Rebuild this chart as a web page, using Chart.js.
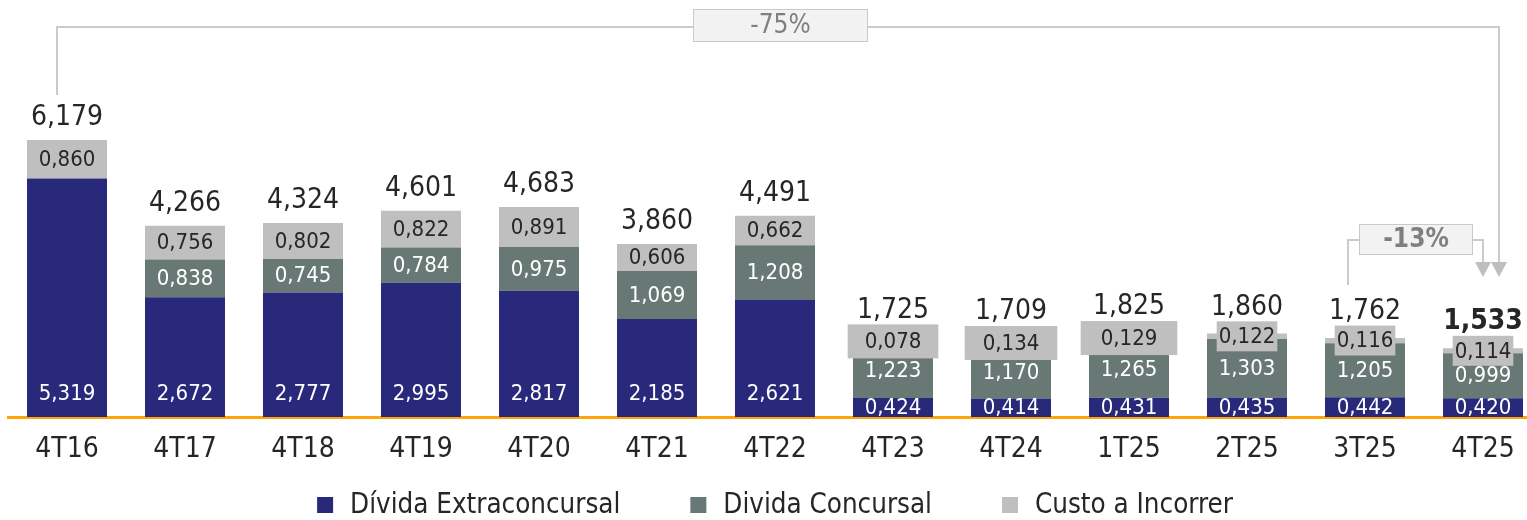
<!DOCTYPE html>
<html>
<head>
<meta charset="utf-8">
<script src="https://cdn.jsdelivr.net/npm/chart.js@4.4.1/dist/chart.umd.min.js"></script>
<style>
  html, body { margin: 0; padding: 0; background: #fff; overflow: hidden; }
  #wrap { position: relative; width: 1545px; height: 520px; }
</style>
</head>
<body>
<div id="wrap"><canvas id="chart"></canvas></div>
<script>
const categories = ['4T16', '4T17', '4T18', '4T19', '4T20', '4T21', '4T22', '4T23', '4T24', '1T25', '2T25', '3T25', '4T25'];
const extraconcursal = [5.319, 2.672, 2.777, 2.995, 2.817, 2.185, 2.621, 0.424, 0.414, 0.431, 0.435, 0.442, 0.420];
const concursal = [0, 0.838, 0.745, 0.784, 0.975, 1.069, 1.208, 1.223, 1.170, 1.265, 1.303, 1.205, 0.999];
const custo = [0.860, 0.756, 0.802, 0.822, 0.891, 0.606, 0.662, 0.078, 0.134, 0.129, 0.122, 0.116, 0.114];
const totals = [6.179, 4.266, 4.324, 4.601, 4.683, 3.860, 4.491, 1.725, 1.709, 1.825, 1.860, 1.762, 1.533];

// grey label boxes for the thin "custo" segments (horizontal padding, null = no box)
const custoBoxPad = [null, null, null, null, null, null, null, 17, 18, 20, 2, 2, 2];

const colors = ['#29297b', '#687975', '#bfbfbf'];
const FONT = '"DejaVu Sans Condensed", "DejaVu Sans", sans-serif';
const fmt = v => v.toFixed(3).replace('.', ',');

const segLabels = {
  id: 'segLabels',
  afterDatasetsDraw(chart) {
    const ctx = chart.ctx;
    ctx.save();
    ctx.textAlign = 'center';
    ctx.textBaseline = 'middle';
    ctx.font = '22px ' + FONT;
    const boxTops = [];
    chart.data.datasets.forEach((ds, di) => {
      chart.getDatasetMeta(di).data.forEach((bar, i) => {
        const v = ds.data[i];
        if (!v) return;
        const { x, y, base } = bar.getProps(['x', 'y', 'base'], true);
        const h = base - y;
        let ty = (y + base) / 2;
        if (di === 0 && h > 48) ty = base - 24;
        const txt = fmt(v);
        if (di === 2) {
          const pad = custoBoxPad[i];
          if (pad !== null) {
            const w = ctx.measureText(txt).width + pad * 2;
            const bh = pad > 8 ? 34 : 30;
            ctx.fillStyle = colors[2];
            ctx.fillRect(x - w / 2, ty - bh / 2, w, bh);
            boxTops[i] = ty - bh / 2;
          }
          ctx.fillStyle = '#262626';
        } else {
          ctx.fillStyle = '#ffffff';
        }
        ctx.fillText(txt, x, ty + 1);
      });
    });

    // totals above each stack
    ctx.fillStyle = '#262626';
    chart.getDatasetMeta(2).data.forEach((bar, i) => {
      const { x, y } = bar.getProps(['x', 'y'], true);
      const ty = boxTops[i] !== undefined ? Math.min(boxTops[i], y) - 14 : y - 22;
      ctx.font = (i === totals.length - 1 ? 'bold ' : '') + '28px ' + FONT;
      ctx.fillText(fmt(totals[i]), x, ty);
    });
    ctx.restore();
  }
};

function arrowDown(ctx, cx, yTop) {
  ctx.beginPath();
  ctx.moveTo(cx - 8, yTop);
  ctx.lineTo(cx + 8, yTop);
  ctx.lineTo(cx, yTop + 15);
  ctx.closePath();
  ctx.fill();
}

function tagBox(ctx, cx, top, w, h, text, bold) {
  ctx.fillStyle = '#f2f2f2';
  ctx.fillRect(cx - w / 2, top, w, h);
  ctx.strokeStyle = '#c9c9c9';
  ctx.lineWidth = 1;
  ctx.strokeRect(cx - w / 2 + 0.5, top + 0.5, w - 1, h - 1);
  ctx.fillStyle = '#7f7f7f';
  ctx.font = (bold ? 'bold ' : '') + '26px ' + FONT;
  ctx.textAlign = 'center';
  ctx.textBaseline = 'middle';
  ctx.fillText(text, cx, top + h / 2 + 1);
}

const brackets = {
  id: 'brackets',
  afterDraw(chart) {
    const { ctx, scales: { x } } = chart;
    const xFirst = x.getPixelForValue(0) - 10;
    const xPrev = x.getPixelForValue(11) - 17;
    const xLast = x.getPixelForValue(12);
    ctx.save();
    ctx.strokeStyle = '#cbcbcb';
    ctx.lineWidth = 2;
    ctx.beginPath();
    ctx.moveTo(xFirst, 95);
    ctx.lineTo(xFirst, 27);
    ctx.lineTo(xLast + 16, 27);
    ctx.lineTo(xLast + 16, 263);
    ctx.stroke();
    ctx.beginPath();
    ctx.moveTo(xPrev, 285);
    ctx.lineTo(xPrev, 240);
    ctx.lineTo(xLast, 240);
    ctx.lineTo(xLast, 263);
    ctx.stroke();
    ctx.fillStyle = '#bfbfbf';
    arrowDown(ctx, xLast, 262);
    arrowDown(ctx, xLast + 16, 262);
    tagBox(ctx, x.getPixelForValue(6) + 5.5, 9, 175, 33, '-75%', false);
    tagBox(ctx, x.getPixelForValue(11) + 51, 224, 114, 31, '-13%', true);
    ctx.restore();
  }
};

// legend row under the axis, spaced like the original
const bottomLegend = {
  id: 'bottomLegend',
  afterDraw(chart) {
    const { ctx, chartArea } = chart;
    const box = 16, gap = 17, spacing = 70, cy = 505;
    ctx.save();
    ctx.font = '27.5px ' + FONT;
    ctx.textBaseline = 'middle';
    ctx.textAlign = 'left';
    const items = chart.data.datasets.map(ds => ({
      text: ds.label, color: ds.backgroundColor, w: ctx.measureText(ds.label).width
    }));
    const total = items.reduce((s, it) => s + box + gap + it.w, 0) + spacing * (items.length - 1);
    let cx = (chartArea.left + chartArea.right) / 2 - total / 2;
    items.forEach(it => {
      ctx.fillStyle = it.color;
      ctx.fillRect(cx, cy - box / 2, box, box);
      ctx.fillStyle = '#262626';
      ctx.fillText(it.text, cx + box + gap, cy + 1);
      cx += box + gap + it.w + spacing;
    });
    ctx.restore();
  }
};

const barStyle = { barPercentage: 0.678, categoryPercentage: 1, borderWidth: 0 };

new Chart(document.getElementById('chart'), {
  type: 'bar',
  data: {
    labels: categories,
    datasets: [
      { label: 'Dívida Extraconcursal', data: extraconcursal, backgroundColor: colors[0], ...barStyle },
      { label: 'Divida Concursal', data: concursal, backgroundColor: colors[1], ...barStyle },
      { label: 'Custo a Incorrer', data: custo, backgroundColor: colors[2], ...barStyle }
    ]
  },
  options: {
    responsive: true,
    maintainAspectRatio: false,
    animation: false,
    layout: { padding: { left: 8, right: 3, top: 0, bottom: 0 } },
    scales: {
      x: {
        stacked: true,
        z: 1,
        grid: { display: false, drawTicks: false },
        border: { display: true, color: '#ffa50a', width: 3 },
        ticks: { color: '#262626', font: { family: FONT, size: 28 }, padding: 16 },
        afterFit(scale) { scale.height = 103; }
      },
      y: { stacked: true, display: false, min: 0, max: 9.3 }
    },
    plugins: {
      tooltip: { enabled: false },
      legend: { display: false }
    }
  },
  plugins: [segLabels, brackets, bottomLegend]
});
</script>
</body>
</html>
